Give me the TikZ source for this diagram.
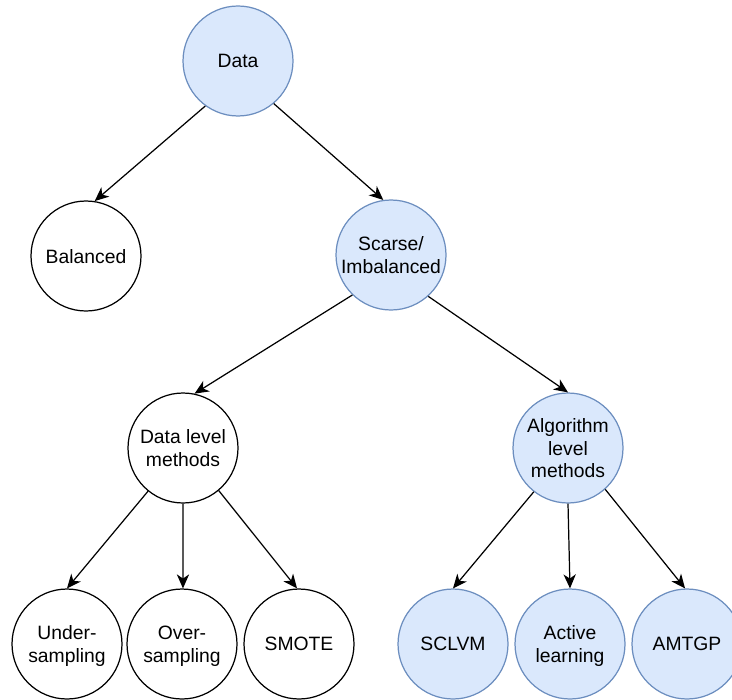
\documentclass[tikz,border=0pt]{standalone}
\usepackage{fontspec}
\setmainfont{Liberation Sans}
\usepackage{xcolor}
\usetikzlibrary{math}
\usetikzlibrary{arrows.meta}
\usetikzlibrary{calc}

\definecolor{blfill}{HTML}{DAE8FC}
\definecolor{bldraw}{HTML}{6C8EBF}

\begin{document}
\begin{tikzpicture}[x=0.02cm, y=-0.02cm]
\tikzset{
  base/.style={draw, line width=0.7pt, align=center, inner sep=0pt,
    font=\fontsize{11}{13}\selectfont, text depth=-2pt},
  pn/.style={base, circle, minimum size=2.2cm},
  bn/.style={pn, draw=bldraw, fill=blfill},
  tip/.style={-{Stealth[length=8pt, width=7pt, inset=2.4pt]}, line width=0.7pt},
}

\useasboundingbox (0, 0) rectangle (732, 699);
\clip (0, 0) rectangle (732, 699);

\node [bn] (data) at (238, 61) {Data};
\node [pn] (bal) at (86, 256) {Balanced};
\node [bn] (scarse) at (391, 255) {Scarse/\\Imbalanced};

\node [pn] (dlm) at (183, 448) {Data level\\methods};
\node [bn] (alm) at (568, 448) {Algorithm\\level\\methods};

\node [pn] (under) at (67, 644) {Under-\\sampling};
\node [pn] (over) at (182, 644) {Over-\\sampling};
\node [pn] (smote) at (299, 644) {SMOTE};
\node [bn] (sclvm) at (453, 644) {SCLVM};
\node [bn] (active) at (570, 644) {Active\\learning};
\node [bn] (amtgp) at (687, 644) {AMTGP};

\draw[tip] (data.234) -- (bal.81);
\draw[tip] (data.310) -- (scarse.98);

\draw[tip] (scarse.226) -- (dlm.78);
\draw[tip] (scarse.312) -- (alm.90);

%\draw[tip] (dlm) -- (under);
\draw[tip] (dlm.231) -- (under.90);
\draw[tip] (dlm.270) -- (over.89);
\draw[tip] (dlm.310) -- (smote.92);

\draw[tip] (alm.232) -- (sclvm.90);
\draw[tip] (alm.270) -- (active.90);
\draw[tip] (alm.312) -- (amtgp.92);
\end{tikzpicture}
\end{document}
